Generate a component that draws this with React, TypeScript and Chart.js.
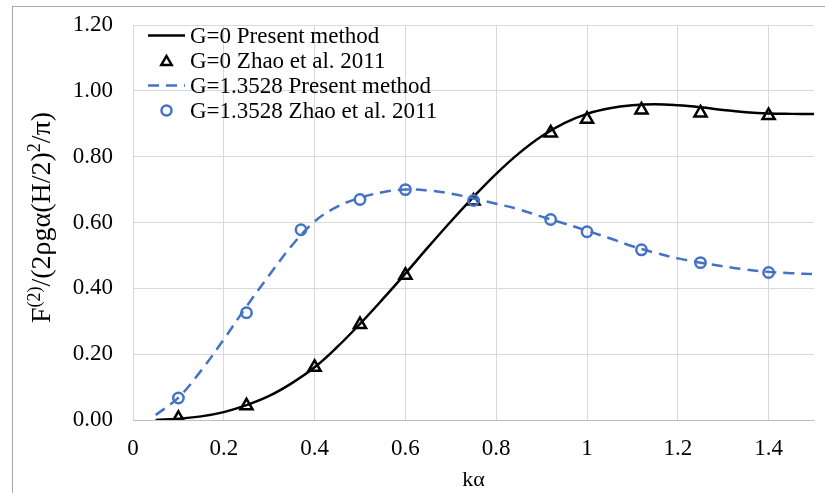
import React, { useEffect, useRef } from 'react';
import { Chart, registerables } from 'chart.js';

Chart.register(...registerables);

// ---------------- data ----------------
const presentX = [0.05, 0.1, 0.15, 0.2, 0.25, 0.3, 0.35, 0.4, 0.45, 0.5, 0.55, 0.6, 0.65, 0.7, 0.75, 0.8, 0.85, 0.9, 0.95, 1.0, 1.05, 1.1, 1.15, 1.2, 1.25, 1.3, 1.35, 1.4, 1.45, 1.5];
const presentG0 = [0.0, 0.004, 0.011, 0.024, 0.045, 0.073, 0.112, 0.16, 0.222, 0.292, 0.367, 0.445, 0.525, 0.603, 0.678, 0.748, 0.81, 0.862, 0.902, 0.93, 0.947, 0.956, 0.959, 0.956, 0.95, 0.942, 0.935, 0.931, 0.93, 0.93];
const presentG1 = [0.015, 0.068, 0.15, 0.245, 0.345, 0.44, 0.53, 0.603, 0.648, 0.675, 0.692, 0.7, 0.697, 0.688, 0.673, 0.657, 0.64, 0.618, 0.597, 0.575, 0.552, 0.528, 0.508, 0.491, 0.478, 0.467, 0.457, 0.45, 0.446, 0.443];

const zhaoG0X = [0.1, 0.25, 0.4, 0.5, 0.6, 0.75, 0.92, 1.0, 1.12, 1.25, 1.4];
const zhaoG0 = [0.005, 0.043, 0.16, 0.29, 0.44, 0.665, 0.872, 0.914, 0.942, 0.933, 0.925];
const zhaoG1X = [0.1, 0.25, 0.37, 0.5, 0.6, 0.75, 0.92, 1.0, 1.12, 1.25, 1.4];
const zhaoG1 = [0.067, 0.326, 0.578, 0.67, 0.7, 0.667, 0.609, 0.572, 0.517, 0.478, 0.448];

const seriesLabels = ['G=0 Present method', 'G=0 Zhao et al. 2011', 'G=1.3528 Present method', 'G=1.3528 Zhao et al. 2011'];

const xTickValues = [0, 0.2, 0.4, 0.6, 0.8, 1, 1.2, 1.4];
const xTickLabels = ['0', '0.2', '0.4', '0.6', '0.8', '1', '1.2', '1.4'];
const yTickValues = [0, 0.2, 0.4, 0.6, 0.8, 1.0, 1.2];
const yTickLabels = ['0.00', '0.20', '0.40', '0.60', '0.80', '1.00', '1.20'];

const xTitle = 'kα';
// y title pieces: [text, isSuperscript]
const yTitleParts: [string, boolean][] = [
  ['F', false],
  ['(2)', true],
  ['/(2ρgα(H/2)', false],
  ['2', true],
  ['/π)', false],
];

const FONT = '"Liberation Serif", "Times New Roman", serif';
const BLUE = '#4472C4';

// ---------------- plugins ----------------
const framePlugin = {
  id: 'frame',
  beforeDraw(chart: any) {
    const ctx = chart.ctx;
    ctx.save();
    ctx.fillStyle = '#ffffff';
    ctx.fillRect(0, 0, chart.width, chart.height);
    ctx.strokeStyle = '#a6a6a6';
    ctx.lineWidth = 1;
    ctx.strokeRect(12.5, 6.5, chart.width + 20, chart.height + 20);
    ctx.restore();
  },
};

const yTitlePlugin = {
  id: 'yTitle',
  afterDraw(chart: any) {
    const ctx = chart.ctx;
    const area = chart.chartArea;
    const base = 28;
    const sup = 18;
    ctx.save();
    let total = 0;
    const widths = yTitleParts.map(([t, s]) => {
      ctx.font = `${s ? sup : base}px ${FONT}`;
      const w = ctx.measureText(t).width;
      total += w;
      return w;
    });
    const cy = (area.top + area.bottom) / 2 - 5;
    ctx.translate(50, cy + total / 2);
    ctx.rotate(-Math.PI / 2);
    ctx.fillStyle = '#000';
    ctx.textBaseline = 'alphabetic';
    ctx.textAlign = 'left';
    let x = 0;
    yTitleParts.forEach(([t, s], i) => {
      ctx.font = `${s ? sup : base}px ${FONT}`;
      ctx.fillText(t, x, s ? -10 : 0);
      x += widths[i];
    });
    ctx.restore();
  },
};

const legendPlugin = {
  id: 'insideLegend',
  afterDraw(chart: any) {
    const ctx = chart.ctx;
    const area = chart.chartArea;
    const x0 = area.left + 15;
    const x1 = area.left + 52;
    const cx = (x0 + x1) / 2;
    const tx = area.left + 57;
    const y0 = area.top + 10.5;
    const dy = 25;
    ctx.save();
    chart.data.datasets.forEach((ds: any, i: number) => {
      const y = y0 + dy * i;
      if (ds.showLine) {
        ctx.strokeStyle = ds.borderColor;
        ctx.lineWidth = ds.borderWidth;
        ctx.setLineDash(ds.borderDash || []);
        ctx.beginPath();
        ctx.moveTo(x0, y);
        ctx.lineTo(x1, y);
        ctx.stroke();
        ctx.setLineDash([]);
      } else {
        ctx.strokeStyle = ds.pointBorderColor;
        ctx.lineWidth = ds.pointBorderWidth;
        const r = ds.pointStyle === 'triangle' ? 6 : 5;
        ctx.beginPath();
        if (ds.pointStyle === 'triangle') {
          ctx.moveTo(cx, y - r + r * 0.25);
          ctx.lineTo(cx + r * 0.866, y + r * 0.5 + r * 0.25);
          ctx.lineTo(cx - r * 0.866, y + r * 0.5 + r * 0.25);
          ctx.closePath();
        } else {
          ctx.arc(cx, y, r, 0, Math.PI * 2);
        }
        ctx.stroke();
      }
      ctx.fillStyle = '#000';
      ctx.font = `23px ${FONT}`;
      ctx.textBaseline = 'middle';
      ctx.textAlign = 'left';
      ctx.fillText(ds.label, tx, y + 1);
    });
    ctx.restore();
  },
};

export default function App() {
  const ref = useRef<HTMLCanvasElement | null>(null);

  useEffect(() => {
    const canvas = ref.current;
    if (!canvas) return;
    const chart = new Chart(canvas, {
      type: 'scatter',
      data: {
        datasets: [
          {
            label: seriesLabels[0],
            data: presentX.map((x, i) => ({ x, y: presentG0[i] })),
            showLine: true,
            borderColor: '#000000',
            borderWidth: 2.5,
            pointRadius: 0,
            tension: 0.4,
            order: 4,
          },
          {
            label: seriesLabels[1],
            data: zhaoG0X.map((x, i) => ({ x, y: zhaoG0[i] })),
            showLine: false,
            pointStyle: 'triangle',
            pointRadius: 7,
            pointBorderWidth: 2.5,
            pointBorderColor: '#000000',
            pointBackgroundColor: 'rgba(255,255,255,0)',
            order: 3,
          },
          {
            label: seriesLabels[2],
            data: presentX.map((x, i) => ({ x, y: presentG1[i] })),
            showLine: true,
            borderColor: BLUE,
            borderWidth: 2.5,
            borderDash: [11, 7],
            pointRadius: 0,
            tension: 0.4,
            order: 2,
          },
          {
            label: seriesLabels[3],
            data: zhaoG1X.map((x, i) => ({ x, y: zhaoG1[i] })),
            showLine: false,
            pointStyle: 'circle',
            pointRadius: 5.2,
            pointBorderWidth: 2.5,
            pointBorderColor: BLUE,
            pointBackgroundColor: 'rgba(255,255,255,0)',
            order: 1,
          },
        ] as any,
      },
      options: {
        animation: false,
        responsive: false,
        devicePixelRatio: 1,
        layout: { padding: { left: 0, top: 25, right: 11, bottom: 0 } },
        plugins: {
          legend: { display: false },
          tooltip: { enabled: false },
        },
        scales: {
          x: {
            type: 'linear',
            min: 0,
            max: 1.5,
            afterBuildTicks: (axis: any) => {
              axis.ticks = xTickValues.map((v) => ({ value: v }));
            },
            afterFit: (axis: any) => {
              axis.height = 73;
              axis.paddingLeft = 0;
              axis.paddingRight = 0;
            },
            ticks: {
              padding: 15,
              color: '#000',
              font: { family: FONT, size: 23 },
              maxRotation: 0,
              autoSkip: false,
              callback: (v: any) => {
                const idx = xTickValues.findIndex((t) => Math.abs(t - v) < 1e-9);
                return idx >= 0 ? xTickLabels[idx] : '';
              },
            },
            grid: { color: '#d9d9d9', lineWidth: 1, drawTicks: false },
            border: { display: true, color: '#bfbfbf', width: 1 },
            title: {
              display: true,
              text: xTitle,
              color: '#000',
              font: { family: FONT, size: 22 },
              padding: { top: 0, bottom: 0 },
            },
          },
          y: {
            type: 'linear',
            min: 0,
            max: 1.2,
            afterBuildTicks: (axis: any) => {
              axis.ticks = yTickValues.map((v) => ({ value: v }));
            },
            afterFit: (axis: any) => {
              axis.width = 133;
              axis.paddingTop = 0;
              axis.paddingBottom = 0;
            },
            ticks: {
              padding: 20,
              color: '#000',
              font: { family: FONT, size: 23 },
              autoSkip: false,
              callback: (v: any) => {
                const idx = yTickValues.findIndex((t) => Math.abs(t - v) < 1e-9);
                return idx >= 0 ? yTickLabels[idx] : '';
              },
            },
            grid: { color: '#d9d9d9', lineWidth: 1, drawTicks: false },
            border: { display: false },
            title: { display: false },
          },
        },
      } as any,
      plugins: [framePlugin, yTitlePlugin, legendPlugin],
    });
    return () => chart.destroy();
  }, []);

  return (
    <div style={{ position: 'absolute', left: 0, top: 0, width: 825, height: 493 }}>
      <canvas ref={ref} width={825} height={493} style={{ display: 'block', width: 825, height: 493 }} />
    </div>
  );
}
